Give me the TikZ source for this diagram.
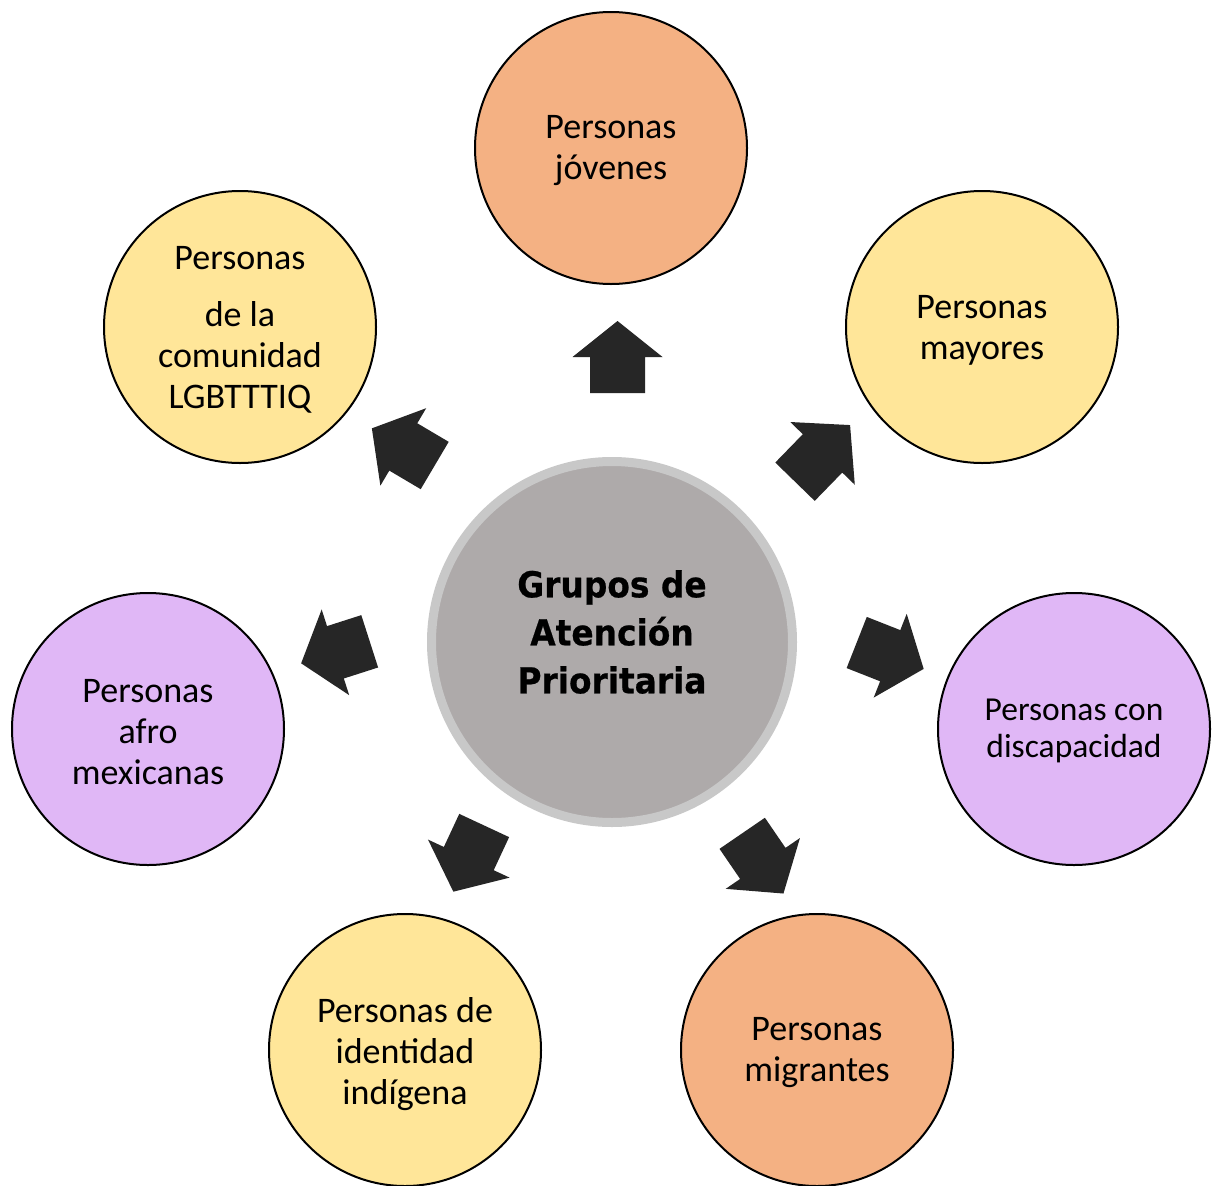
\documentclass[tikz,border=0pt]{standalone}
\usepackage{fontspec}
\setmainfont{Carlito}
\newfontfamily\ctrfont[FakeStretch=0.92,BoldFeatures={FakeBold=0.6}]{DejaVu Sans}
\definecolor{orng}{RGB}{244,177,131}
\definecolor{yllw}{RGB}{255,230,153}
\definecolor{prpl}{RGB}{224,183,246}
\definecolor{ctrfill}{RGB}{174,170,170}
\definecolor{ctrring}{RGB}{200,200,200}
\definecolor{arrfill}{RGB}{38,38,38}
\tikzset{
  group/.style={circle, draw=black, line width=2pt, minimum size=272pt, inner sep=0pt},
  grouptext/.style={align=center, inner sep=0pt, font=\fontsize{36}{41}\selectfont},
  ctrcircle/.style={circle, draw=ctrring, fill=ctrfill, line width=9pt, minimum size=361pt, inner sep=0pt},
  ctrtext/.style={align=center, inner sep=0pt, font=\ctrfont\bfseries\fontsize{35.7}{48}\selectfont},
  blockfill/.style={fill=arrfill}
}
\newcommand{\blockarr}[4]{%
  \begin{scope}[shift={(#1,#2)},rotate=#3]
    \fill[blockfill] (0,-27.5) -- ({#4/2},-27.5) -- ({#4/2},-45) -- (#4,0) -- ({#4/2},45) -- ({#4/2},27.5) -- (0,27.5) -- cycle;
  \end{scope}}
\begin{document}
\begin{tikzpicture}[x=1pt,y=-1pt]
\useasboundingbox (0,0) rectangle (1213,1186);
\fill[white] (0,0) rectangle (1213,1186);

\node[ctrcircle] (ctr) at (612,642) {};
\node[ctrtext] (ctrlabel) at (612,632) {Grupos de\\Atención\\Prioritaria};

\node[group, fill=orng] (jov) at (611,148) {};
\node[group, fill=yllw] (may) at (982,327) {};
\node[group, fill=prpl] (dis) at (1074,729) {};
\node[group, fill=orng] (mig) at (817,1050) {};
\node[group, fill=yllw] (ind) at (405,1050) {};
\node[group, fill=prpl] (afr) at (148,729) {};
\node[group, fill=yllw] (lgb) at (240,327) {};

\node[grouptext] (jovl) at (611,151) {Personas\\jóvenes};
\node[grouptext] (mayl) at (982,330) {Personas\\mayores};
\node[grouptext, font=\fontsize{33.5}{37}\selectfont] (disl) at (1074,731) {Personas con\\discapacidad};
\node[grouptext] (migl) at (817,1053) {Personas\\migrantes};
\node[grouptext] (indl) at (405,1054) {Personas de\\identidad\\indígena};
\node[grouptext] (afrl) at (148,732) {Personas\\afro\\mexicanas};
\node[grouptext] (lgbl) at (240,330) {Personas\\[16pt]de la\\comunidad\\LGBTTTIQ};

\blockarr{617.5}{393}{90}{72}
\blockarr{795}{481.7}{45.8}{79}
\blockarr{856.7}{642.5}{-21.5}{72}
\blockarr{742.2}{833.3}{-55.6}{73}
\blockarr{484.2}{825.5}{-115}{73}
\blockarr{369.7}{641.3}{-162.2}{72}
\blockarr{434.7}{465.5}{149.4}{73}
\end{tikzpicture}
\end{document}
